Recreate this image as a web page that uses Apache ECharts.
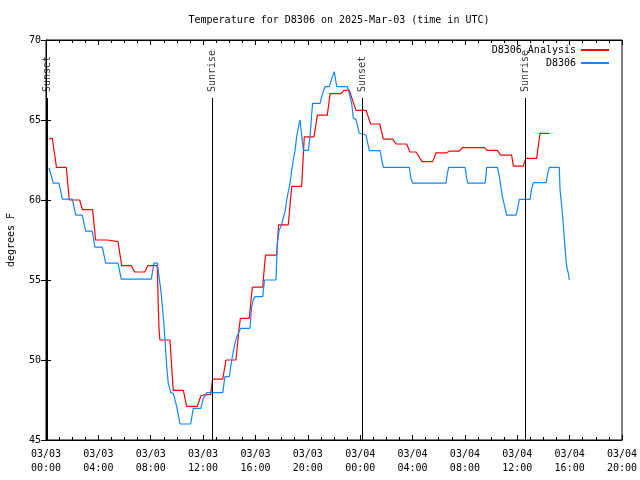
<!DOCTYPE html>
<html>
<head>
<meta charset="utf-8">
<script src="https://cdn.jsdelivr.net/npm/echarts@6/dist/echarts.min.js"></script>
<style>html,body{margin:0;padding:0;background:#fff}#c{width:640px;height:480px}</style>
</head>
<body>
<div id="c"></div>
<script>
// hours since 2025-03-03 00:00 UTC
const xTickLabels = ['03/03\n00:00','03/03\n04:00','03/03\n08:00','03/03\n12:00','03/03\n16:00','03/03\n20:00',
                     '03/04\n00:00','03/04\n04:00','03/04\n08:00','03/04\n12:00','03/04\n16:00','03/04\n20:00'];
const yTickValues = [45, 50, 55, 60, 65, 70];

const analysisTimes = [0.23,0.48,0.80,1.55,1.78,2.57,2.78,3.56,3.79,4.69,4.78,5.50,5.78,6.52,6.77,7.54,7.79,8.50,8.57,8.63,8.70,
  9.47,9.72,10.49,10.75,11.56,11.82,12.0,12.58,12.73,13.50,13.75,14.51,14.75,14.85,15.53,15.76,16.55,16.76,17.62,17.77,
  18.51,18.77,19.53,19.73,20.47,20.73,21.49,21.70,22.54,22.75,23.17,23.68,24.45,24.80,25.50,25.77,26.48,26.74,27.55,27.80,
  28.27,28.72,29.54,29.79,30.60,30.80,31.57,31.80,33.50,33.70,34.48,34.73,35.57,35.70,36.46,36.65,37.48,37.74,38.45];
const analysisValues = [63.8,63.86,62.04,62.04,60.0,60.0,59.4,59.4,57.5,57.5,57.4,57.4,55.9,55.9,55.5,55.5,55.9,55.9,53.6,52.0,51.25,
  51.25,48.1,48.1,47.1,47.1,47.75,47.8,47.85,48.8,48.8,50.0,50.0,52.0,52.6,52.6,54.55,54.55,56.55,56.55,58.45,
  58.45,60.85,60.85,63.95,63.95,65.3,65.3,66.65,66.65,66.85,66.85,65.6,65.6,64.75,64.75,63.8,63.8,63.5,63.5,63.0,
  63.0,62.4,62.4,62.95,62.95,63.05,63.05,63.27,63.27,63.1,63.1,62.8,62.8,62.12,62.12,62.6,62.6,64.17,64.17];

const obsTimes = [0.23,0.56,0.99,1.25,2.01,2.27,2.77,3.03,3.54,3.74,4.30,4.56,5.50,5.75,8.04,8.25,8.50,8.785,8.96,9.09,9.22,9.34,9.53,
  9.725,9.985,10.24,11.05,11.25,11.82,12.02,12.28,13.50,13.67,14.00,14.19,14.385,14.57,14.87,15.58,15.71,15.84,15.97,16.555,16.69,
  17.57,17.67,17.80,18.005,18.08,18.26,18.39,18.51,18.64,18.77,18.89,19.02,19.15,19.27,19.40,19.66,20.04,20.17,20.30,20.37,
  20.93,21.06,21.18,21.31,21.64,21.83,22.02,22.21,23.02,23.17,23.35,23.48,23.68,23.78,23.93,24.04,24.45,24.55,24.70,25.52,
  25.65,25.77,27.75,27.88,28.01,30.56,30.66,30.76,32.01,32.14,32.22,33.54,33.67,34.48,34.63,34.74,34.86,35.01,35.19,35.90,
  36.03,36.16,36.97,37.10,37.23,38.20,38.33,38.45,39.21,39.27,39.40,39.52,39.60,39.70,39.78,39.90,39.98];
const obsValues = [62.0,61.05,61.05,60.05,60.05,59.05,59.05,58.05,58.05,57.05,57.05,56.05,56.05,55.05,55.05,56.05,56.05,54.27,52.7,51.25,49.6,48.55,47.96,
  47.92,47.08,46.0,46.0,46.98,46.98,47.6,47.96,47.96,48.96,48.96,50.0,50.83,51.46,51.98,51.98,53.3,53.79,53.96,53.96,55.0,
  55.0,57.3,58.1,58.44,58.75,59.27,60.0,60.52,61.04,61.875,62.5,63.1,63.96,64.48,65.0,63.1,63.1,63.96,65.42,66.04,
  66.04,66.46,66.77,67.08,67.08,67.6,68.02,67.08,67.08,66.67,66.04,65.1,65.04,64.69,64.17,64.06,64.06,63.65,63.08,63.08,
  62.5,62.04,62.04,61.35,61.06,61.06,61.67,62.04,62.04,61.35,61.06,61.06,62.04,62.04,61.46,60.875,60.21,59.69,59.06,59.06,
  59.48,60.04,60.04,60.73,61.08,61.08,61.67,62.04,62.04,60.6,59.58,58.44,57.5,56.46,55.83,55.42,55.0];

const sunEventNames = ['Sunset','Sunrise','Sunset','Sunrise'];
const sunEventTimes = [0.13, 12.70, 24.16, 36.59];

const FONT = 'DejaVu Sans Mono';
const chart = echarts.init(document.getElementById('c'), null, {renderer:'canvas'});

const baseX = {
  type:'value', min:0, max:44, interval:4,
  axisLine:{show:true, lineStyle:{color:'#000', width:1}},
  axisTick:{show:true, inside:true, length:5, lineStyle:{color:'#000'}},
  minorTick:{show:true, splitNumber:4, length:3, lineStyle:{color:'#000'}},
  splitLine:{show:false}
};
const baseY = {
  type:'value', min:45, max:70, interval:5,
  axisLine:{show:true, lineStyle:{color:'#000', width:1}},
  axisTick:{show:true, inside:true, length:5, lineStyle:{color:'#000'}},
  splitLine:{show:false}
};
const legendText = {fontFamily:FONT, fontSize:10, color:'#000'};

const option = {
  animation:false,
  backgroundColor:'#fff',
  title:{text:'Temperature for D8306 on 2025-Mar-03 (time in UTC)', left:334, top:10, textAlign:'center',
    textStyle:{fontFamily:FONT, fontSize:10, fontWeight:'normal', color:'#000'}},
  legend:[
    {data:['D8306 Analysis'], right:30, top:45, align:'right', itemWidth:28, itemHeight:12, padding:0,
     itemStyle:{opacity:0}, textStyle:legendText},
    {data:['D8306'], right:30, top:58, align:'right', itemWidth:28, itemHeight:12, padding:0,
     itemStyle:{opacity:0}, textStyle:legendText}
  ],
  grid:{left:46, right:18, top:40, bottom:40, show:true, borderColor:'#000', borderWidth:1,
    backgroundColor:'transparent', containLabel:false, outerBoundsMode:'none'},
  xAxis:[
    Object.assign({}, baseX, {position:'bottom',
      axisLabel:{fontFamily:FONT, fontSize:10, color:'#000', lineHeight:14, margin:7,
        formatter:(v)=> xTickLabels[Math.round(v/4)] || ''}}),
    Object.assign({}, baseX, {position:'top', axisLabel:{show:false}})
  ],
  yAxis:[
    Object.assign({}, baseY, {position:'left', name:'degrees F', nameLocation:'middle', nameGap:30, nameRotate:90,
      nameTextStyle:{fontFamily:FONT, fontSize:10, color:'#000'},
      axisLabel:{fontFamily:FONT, fontSize:10, color:'#000', margin:5,
        formatter:(v)=> yTickValues.includes(v) ? String(v) : ''}}),
    Object.assign({}, baseY, {position:'right', axisLabel:{show:false}})
  ],
  series:[
    {name:'D8306 Analysis', type:'line', xAxisIndex:0, yAxisIndex:0, symbol:'none', showSymbol:false,
     color:'#ff0000', lineStyle:{color:'#ff0000', width:1.2}, z:2,
     data: analysisTimes.map((t,i)=>[t, analysisValues[i]]),
     markLine:{silent:true, symbol:['none','none'], animation:false,
       lineStyle:{color:'#000', width:1, type:'solid'}, label:{show:false},
       data: sunEventTimes.map(t=>[{coord:[t, 66.375]}, {coord:[t, 45]}])}},
    {name:'D8306', type:'line', xAxisIndex:0, yAxisIndex:0, symbol:'none', showSymbol:false,
     color:'#0f87ff', lineStyle:{color:'#0f87ff', width:1.2}, z:3,
     data: obsTimes.map((t,i)=>[t, obsValues[i]])},
    {name:'sun', type:'scatter', xAxisIndex:0, yAxisIndex:0, symbolSize:0, silent:true,
     data: sunEventTimes.map((t,i)=>({value:[t, 66.75], name:sunEventNames[i]})),
     label:{show:true, formatter:(p)=>p.name, rotate:90, position:[0,0], align:'left', verticalAlign:'middle',
       fontFamily:FONT, fontSize:10, color:'#000'}}
  ]
};
chart.setOption(option);
</script>
</body>
</html>
